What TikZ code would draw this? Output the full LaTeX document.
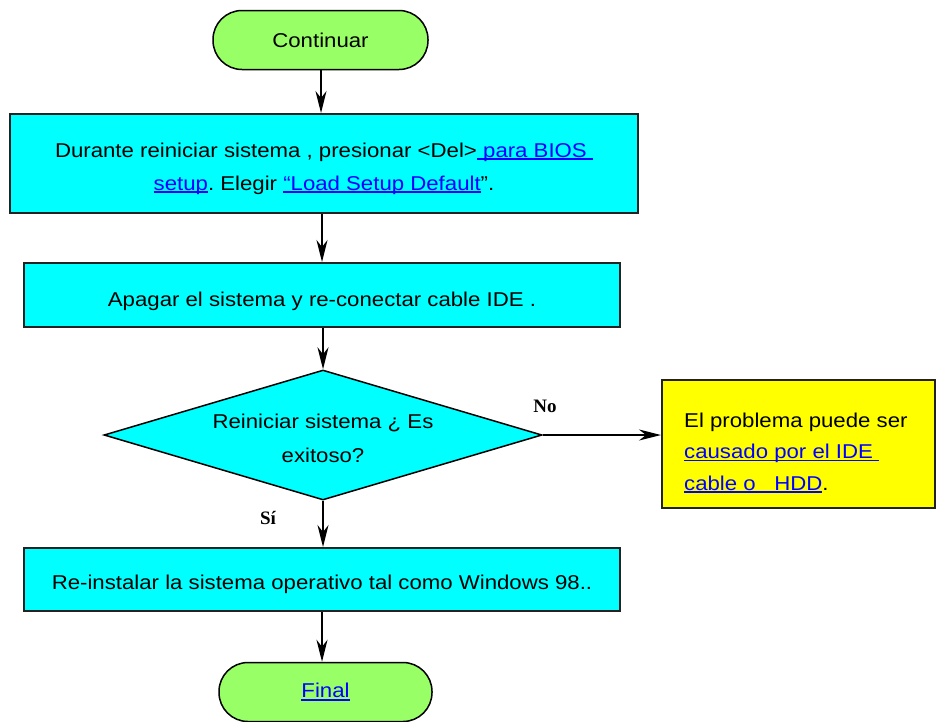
\documentclass[tikz,border=0pt]{standalone}
\usepackage{fontspec}
\setmainfont{Liberation Sans}[FakeStretch=1.11]
\newfontfamily\lblfont{Liberation Serif}
\usetikzlibrary{arrows.meta,shapes.geometric}
\frenchspacing
\definecolor{termgreen}{HTML}{99FF66}
\definecolor{procyan}{HTML}{00FFFF}
\definecolor{noteyellow}{HTML}{FFFF00}
\definecolor{linkblue}{HTML}{0000FF}
\definecolor{edgegray}{HTML}{222222}
\newcommand{\lnk}[1]{{\color{linkblue}\setbox0\hbox{#1}\rlap{\rule[-2.6pt]{\wd0}{1.6pt}}\box0}}
\newcommand{\dn}[2]{\raisebox{-#1}[\height][\depth]{#2}}
\tikzset{
  term/.style={draw=black, line width=1.5pt, fill=termgreen, rounded corners=29pt,
    minimum width=#1, minimum height=59pt, inner sep=0pt, font=\fontsize{20}{33}\selectfont},
  proc/.style={draw=edgegray, line width=2pt, fill=procyan, inner sep=0pt,
    align=center, font=\fontsize{20}{33}\selectfont},
  note/.style={draw=edgegray, line width=2pt, fill=noteyellow, inner sep=0pt},
  dec/.style={diamond, draw=black, line width=1.5pt, fill=procyan, inner sep=0pt,
    aspect=3.37, minimum width=438pt, minimum height=130pt, align=center,
    font=\fontsize{20}{34}\selectfont},
  arr/.style={draw=black, line width=1.5pt, -{Stealth[length=22pt,width=11pt,inset=7pt]}},
  lbl/.style={font=\lblfont\bfseries\fontsize{19}{22}\selectfont, inner sep=0pt}
}
\begin{document}
\begin{tikzpicture}[x=1pt,y=-1pt]
\useasboundingbox (0,0) rectangle (936,721);
\fill[white] (0,0) rectangle (936,721);
% nodes
\node[term=215pt] (c) at (320.5,40) {Continuar};
\node[proc, minimum width=628pt, minimum height=99pt] (b1) at (324,163.5)
  {\dn{5pt}{Durante reiniciar sistema , presionar <Del>\lnk{ para BIOS }}\\
   \dn{5pt}{\lnk{setup}. Elegir \lnk{“Load Setup Default}”.}};
\node[proc, minimum width=596pt, minimum height=64pt] (b2) at (322,295)
  {\dn{6pt}{Apagar el sistema y re-conectar cable IDE .}};
\node[dec] (d) at (323,435) {\dn{3pt}{Reiniciar sistema ¿ Es}\\\dn{3pt}{exitoso?}};
\node[note, minimum width=273pt, minimum height=128pt] (y) at (798.5,444) {};
\node[anchor=north west, align=left, inner sep=0pt, font=\fontsize{20}{31.5}\selectfont] (yt) at (684,412.4)
  {El problema puede ser\\ \lnk{causado por el IDE }\\ \lnk{cable o\ \ \ HDD}.};
\node[proc, minimum width=596pt, minimum height=63pt] (b3) at (322,579.5)
  {\dn{5pt}{Re-instalar la sistema operativo tal como Windows 98..}};
\node[term=213pt] (f) at (325.5,692) {\lnk{Final}};
% labels
\node[lbl] (no) at (545,406) {No};
\node[lbl] (si) at (268,518) {Sí};
% connectors
\draw[arr] (c.south -| 321,0) -- (b1.north -| 321,0);
\draw[arr] (b1.south -| 322,0) -- (b2.north -| 322,0);
\draw[arr] (b2.south -| d.north) -- (d.north);
\draw[arr] (d.south) -- (d.south |- b3.north);
\draw[arr] (b3.south -| 322,0) -- (f.north -| 322,0);
\draw[arr] (d.east) -- (d.east -| y.west);
\end{tikzpicture}
\end{document}
